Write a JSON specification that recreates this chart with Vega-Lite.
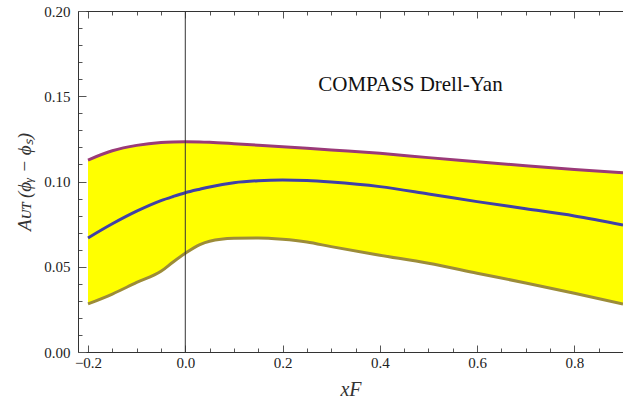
{
  "$schema": "https://vega.github.io/schema/vega-lite/v6.json",
  "width": 545,
  "height": 341,
  "autosize": {"type": "none"},
  "padding": {"left": 78, "top": 11, "right": 0, "bottom": 55},
  "background": "white",
  "config": {"view": {"stroke": null}},
  "datasets": {
    "curves": [
      {"x": -0.2, "lo": 0.0282, "mid": 0.0669, "hi": 0.1126},
      {"x": -0.15, "lo": 0.0340, "mid": 0.0752, "hi": 0.1180},
      {"x": -0.1, "lo": 0.0408, "mid": 0.0826, "hi": 0.1212},
      {"x": -0.05, "lo": 0.0473, "mid": 0.0888, "hi": 0.1229},
      {"x": -0.025, "lo": 0.0528, "mid": 0.0912, "hi": 0.1232},
      {"x": 0.0, "lo": 0.0579, "mid": 0.0934, "hi": 0.1233},
      {"x": 0.03, "lo": 0.0630, "mid": 0.0955, "hi": 0.1232},
      {"x": 0.05, "lo": 0.0650, "mid": 0.0968, "hi": 0.1230},
      {"x": 0.1, "lo": 0.0667, "mid": 0.0993, "hi": 0.1222},
      {"x": 0.15, "lo": 0.0669, "mid": 0.1005, "hi": 0.1213},
      {"x": 0.2, "lo": 0.0661, "mid": 0.1009, "hi": 0.1204},
      {"x": 0.25, "lo": 0.0645, "mid": 0.1006, "hi": 0.1195},
      {"x": 0.3, "lo": 0.0618, "mid": 0.0997, "hi": 0.1185},
      {"x": 0.4, "lo": 0.0568, "mid": 0.0970, "hi": 0.1165},
      {"x": 0.5, "lo": 0.0520, "mid": 0.0927, "hi": 0.1140},
      {"x": 0.6, "lo": 0.0462, "mid": 0.0882, "hi": 0.1116},
      {"x": 0.7, "lo": 0.0405, "mid": 0.0840, "hi": 0.1092},
      {"x": 0.8, "lo": 0.0345, "mid": 0.0798, "hi": 0.1070},
      {"x": 0.9, "lo": 0.0282, "mid": 0.0745, "hi": 0.1052}
    ],
    "vline": [{"x0": 0}],
    "label": [{"tx": 0.463, "ty": 0.1566, "text": "COMPASS Drell-Yan"}]
  },
  "resolve": {"axis": {"x": "independent", "y": "independent"}},
  "layer": [
    {
      "data": {"name": "curves"},
      "mark": {"type": "area", "color": "#ffff00", "interpolate": "monotone"},
      "encoding": {
        "x": {
          "field": "x", "type": "quantitative",
          "scale": {"domain": [-0.2206, 0.9], "nice": false, "zero": false},
          "axis": {
            "orient": "bottom",
            "values": [-0.2, -0.15, -0.1, -0.05, 0, 0.05, 0.1, 0.15, 0.2, 0.25, 0.3, 0.35, 0.4, 0.45, 0.5, 0.55, 0.6, 0.65, 0.7, 0.75, 0.8, 0.85, 0.9],
            "format": ".1f",
            "labelExpr": "abs(round(datum.value*20)) % 4 === 0 ? datum.label : ''",
            "labelOverlap": false,
            "tickSize": {"condition": {"test": "abs(round(datum.value*20)) % 4 === 0", "value": -7}, "value": -4},
            "tickColor": "#555",
            "tickWidth": 1,
            "domainColor": "#333",
            "grid": false,
            "labelFont": "Liberation Serif",
            "labelFontSize": 15,
            "labelColor": "#222",
            "labelPadding": 10,
            "labelFlush": false,
            "title": "xF",
            "titleFont": "Liberation Serif",
            "titleFontSize": 20,
            "titleFontStyle": "italic",
            "titleFontWeight": "normal",
            "titleColor": "#333",
            "titlePadding": 6
          }
        },
        "y": {
          "field": "lo", "type": "quantitative",
          "scale": {"domain": [0, 0.2], "nice": false},
          "axis": {
            "orient": "left",
            "values": [0, 0.01, 0.02, 0.03, 0.04, 0.05, 0.06, 0.07, 0.08, 0.09, 0.1, 0.11, 0.12, 0.13, 0.14, 0.15, 0.16, 0.17, 0.18, 0.19, 0.2],
            "format": ".2f",
            "labelExpr": "round(datum.value*100) % 5 === 0 ? datum.label : ''",
            "labelOverlap": false,
            "tickSize": {"condition": {"test": "round(datum.value*100) % 5 === 0", "value": -8}, "value": -4},
            "tickColor": "#555",
            "domainColor": "#333",
            "grid": false,
            "labelFont": "Liberation Serif",
            "labelFontSize": 15,
            "labelColor": "#222",
            "labelPadding": 16,
            "labelFlush": false,
            "title": "Aᴜᴛ (ϕᵧ − ϕₛ)",
            "titleFont": "Liberation Serif",
            "titleFontSize": 19,
            "titleFontStyle": "italic",
            "titleFontWeight": "normal",
            "titleColor": "#333",
            "titlePadding": 9
          }
        },
        "y2": {"field": "hi"}
      }
    },
    {
      "data": {"name": "curves"},
      "mark": {"type": "line", "color": "#9a3a78", "strokeWidth": 3, "interpolate": "monotone"},
      "encoding": {
        "x": {"field": "x", "type": "quantitative", "axis": null},
        "y": {"field": "hi", "type": "quantitative", "axis": null}
      }
    },
    {
      "data": {"name": "curves"},
      "mark": {"type": "line", "color": "#4040a8", "strokeWidth": 3, "interpolate": "monotone"},
      "encoding": {
        "x": {"field": "x", "type": "quantitative", "axis": null},
        "y": {"field": "mid", "type": "quantitative", "axis": null}
      }
    },
    {
      "data": {"name": "curves"},
      "mark": {"type": "line", "color": "#9c8c38", "strokeWidth": 3, "interpolate": "monotone"},
      "encoding": {
        "x": {"field": "x", "type": "quantitative", "axis": null},
        "y": {"field": "lo", "type": "quantitative", "axis": null}
      }
    },
    {
      "data": {"name": "vline"},
      "mark": {"type": "rule", "color": "#333", "strokeWidth": 1},
      "encoding": {
        "x": {
          "field": "x0", "type": "quantitative",
          "axis": {
            "orient": "top",
            "values": [-0.2, -0.15, -0.1, -0.05, 0, 0.05, 0.1, 0.15, 0.2, 0.25, 0.3, 0.35, 0.4, 0.45, 0.5, 0.55, 0.6, 0.65, 0.7, 0.75, 0.8, 0.85, 0.9],
            "labels": false,
            "title": null,
            "grid": false,
            "tickSize": {"condition": {"test": "abs(round(datum.value*20)) % 4 === 0", "value": -7}, "value": -4},
            "tickColor": "#555",
            "domainColor": "#333"
          }
        }
      }
    },
    {
      "data": {"name": "label"},
      "mark": {"type": "text", "font": "Liberation Serif", "fontSize": 21, "color": "#111", "align": "center", "baseline": "middle"},
      "encoding": {
        "x": {"field": "tx", "type": "quantitative", "axis": null},
        "y": {"field": "ty", "type": "quantitative", "axis": null},
        "text": {"field": "text"}
      }
    }
  ]
}
